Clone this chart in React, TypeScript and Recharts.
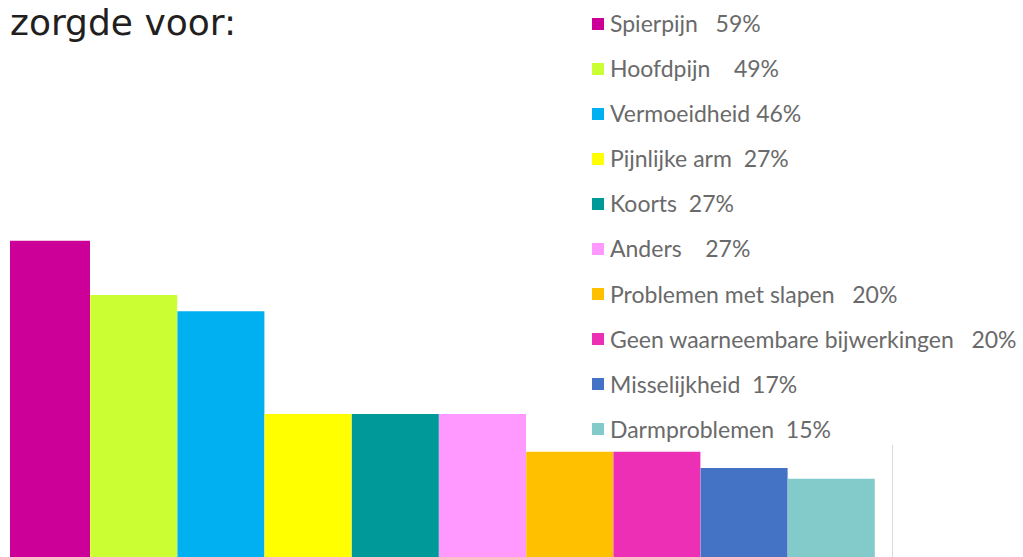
import { BarChart, Bar, XAxis, YAxis, Cell, Legend } from "recharts";

const categories = [
  "Spierpijn",
  "Hoofdpijn",
  "Vermoeidheid",
  "Pijnlijke arm",
  "Koorts",
  "Anders",
  "Problemen met slapen",
  "Geen waarneembare bijwerkingen",
  "Misselijkheid",
  "Darmproblemen",
];
const values = [59, 49, 46, 27, 27, 27, 20, 20, 17, 15];
const colors = [
  "#cc0099",
  "#ccff33",
  "#00b0f0",
  "#ffff00",
  "#009999",
  "#ff99ff",
  "#ffc000",
  "#ec2fb5",
  "#4472c4",
  "#83cbcb",
];
// legend text as it appears (spacing included)
const legendLabels = [
  "Spierpijn   59%",
  "Hoofdpijn    49%",
  "Vermoeidheid 46%",
  "Pijnlijke arm  27%",
  "Koorts  27%",
  "Anders    27%",
  "Problemen met slapen   20%",
  "Geen waarneembare bijwerkingen   20%",
  "Misselijkheid  17%",
  "Darmproblemen  15%",
];

const data = categories.map((name, i) => ({ name, value: values[i] }));

const renderLegend = () => (
  <div style={{ fontFamily: "Lato, sans-serif", fontSize: 23, color: "#6a6a6a" }}>
    {legendLabels.map((label, i) => (
      <div
        key={label}
        style={{ height: 45.1, lineHeight: "45.1px", whiteSpace: "pre", display: "flex", alignItems: "center" }}
      >
        <span
          style={{ display: "inline-block", width: 12, height: 12, background: colors[i], marginRight: 6 }}
        />
        <span>{label}</span>
      </div>
    ))}
  </div>
);

export default function App() {
  return (
    <div>
      <div
        style={{
          position: "absolute",
          left: 10,
          top: 5,
          fontFamily: "'DejaVu Sans', sans-serif",
          fontSize: 36,
          lineHeight: 1,
          color: "#231f20",
        }}
      >
        zorgde voor:
      </div>
      <div style={{ position: "absolute", left: 10, top: 0, width: 1013, height: 557, overflow: "hidden" }}>
        <div style={{ position: "relative", left: -7, width: 1020, height: 560 }}>
          <BarChart
            width={1020}
            height={560}
            data={data}
            margin={{ top: 19, right: 148, bottom: 0, left: 0 }}
            barCategoryGap={0}
          >
            <XAxis dataKey="name" hide />
            <YAxis hide domain={[0, 100]} />
            <Bar dataKey="value" isAnimationActive={false}>
              {data.map((d, i) => (
                <Cell key={d.name} fill={colors[i]} />
              ))}
            </Bar>
            <Legend
              layout="horizontal"
              verticalAlign="middle"
              align="center"
              content={renderLegend}
              wrapperStyle={{ left: 589, top: 1, width: 430 }}
            />
          </BarChart>
        </div>
      </div>
      <div
        style={{
          position: "absolute",
          left: 892,
          top: 445,
          width: 0,
          height: 112,
          borderLeft: "1px solid #d9d9d9",
        }}
      />
    </div>
  );
}
